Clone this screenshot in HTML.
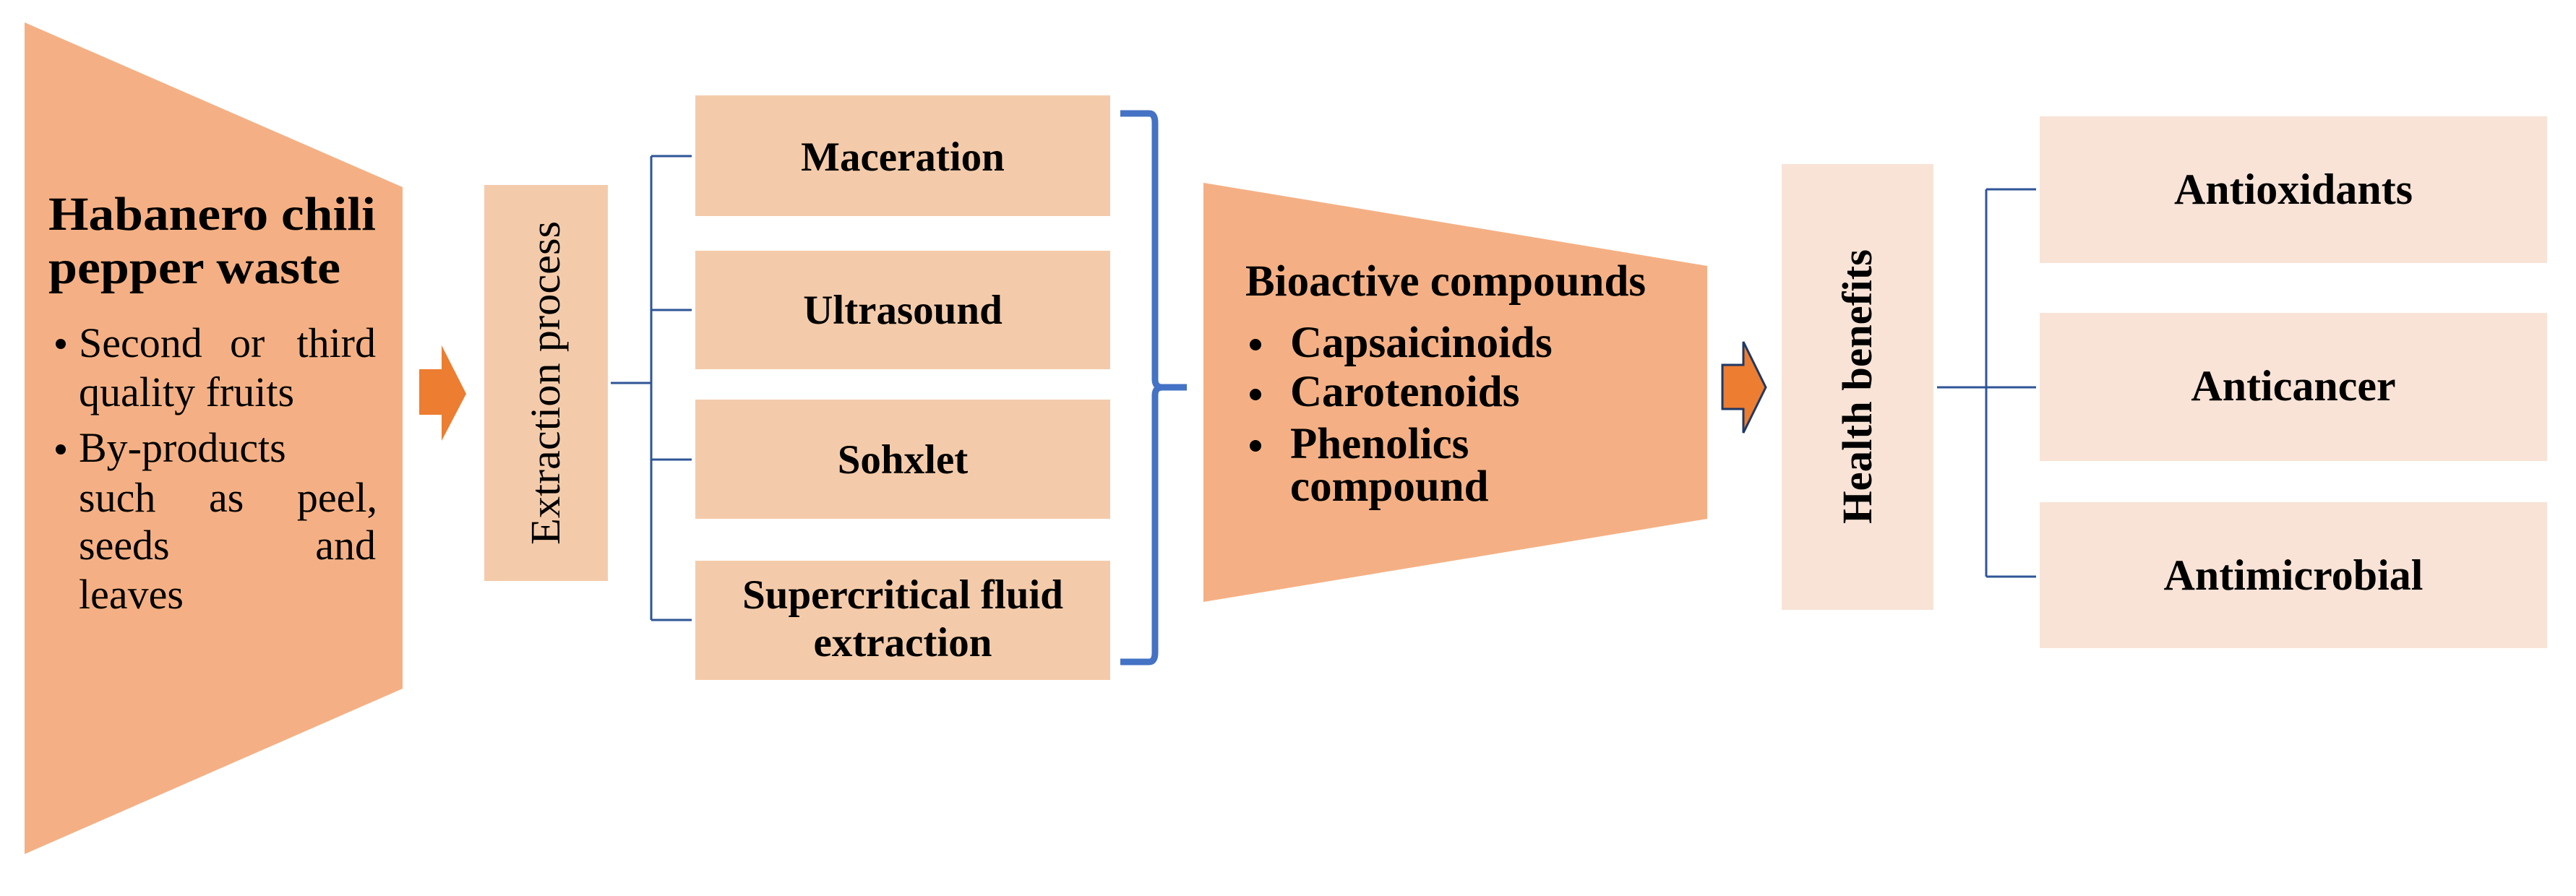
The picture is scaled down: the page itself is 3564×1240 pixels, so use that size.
<!DOCTYPE html>
<html><head><meta charset="utf-8"><style>
html,body{margin:0;padding:0;background:#fff;}
svg{display:block;}
text{font-family:"Liberation Serif",serif;fill:#000;}
.b{font-weight:bold;}
</style></head><body>
<svg width="3564" height="1240" viewBox="0 0 3564 1240" xmlns="http://www.w3.org/2000/svg">
<polygon points="34,31 557,259 557,953 34,1182" fill="#f4b084"/>
<text class="b" x="67" y="318" font-size="66" textLength="453" lengthAdjust="spacingAndGlyphs">Habanero chili</text>
<text class="b" x="67" y="392" font-size="66" textLength="404" lengthAdjust="spacingAndGlyphs">pepper waste</text>
<g font-size="58">
<circle cx="84" cy="476" r="7" fill="#000"/>
<text x="109" y="494">Second</text><text x="318" y="494">or</text><text x="520" y="494" text-anchor="end">third</text>
<text x="109" y="562">quality fruits</text>
<circle cx="84" cy="622" r="7" fill="#000"/>
<text x="109" y="639">By-products</text>
<text x="109" y="708">such</text><text x="289" y="708">as</text><text x="522" y="708" text-anchor="end">peel,</text>
<text x="109" y="774">seeds</text><text x="520" y="774" text-anchor="end">and</text>
<text x="109" y="842">leaves</text>
</g>
<polygon points="580,511 611,511 611,478 645,545 611,610 611,574 580,574" fill="#ed7d31"/>
<rect x="670" y="256" width="171" height="548" fill="#f4cbaa"/>
<text x="0" y="0" font-size="58" text-anchor="middle" transform="translate(774,530) rotate(-90)" textLength="448" lengthAdjust="spacingAndGlyphs">Extraction process</text>
<g stroke="#2f5597" stroke-width="3" fill="none">
<line x1="845" y1="530" x2="901" y2="530"/>
<line x1="901" y1="216" x2="901" y2="858"/>
<line x1="901" y1="216" x2="957" y2="216"/>
<line x1="901" y1="429" x2="957" y2="429"/>
<line x1="901" y1="636" x2="957" y2="636"/>
<line x1="901" y1="858" x2="957" y2="858"/>
</g>
<g fill="#f4cbaa">
<rect x="962" y="132" width="574" height="167"/>
<rect x="962" y="347" width="574" height="164"/>
<rect x="962" y="553" width="574" height="165"/>
<rect x="962" y="776" width="574" height="165"/>
</g>
<g font-size="57" text-anchor="middle">
<text class="b" x="1249" y="236">Maceration</text>
<text class="b" x="1249" y="448">Ultrasound</text>
<text class="b" x="1249" y="655">Sohxlet</text>
<text class="b" x="1249" y="842">Supercritical fluid</text>
<text class="b" x="1249" y="908">extraction</text>
</g>
<path d="M1550,157 L1590,157 Q1598,157 1598,170 L1598,525 Q1598,536 1608,536 L1642,536 M1608,536 Q1598,536 1598,547 L1598,903 Q1598,916 1590,916 L1550,916" stroke="#4472c4" stroke-width="9" fill="none"/>
<polygon points="1665,253 2362,368 2362,718 1665,833" fill="#f4b084"/>
<g font-size="61">
<text class="b" x="1723" y="409">Bioactive compounds</text>
<circle cx="1737" cy="477" r="8" fill="#000"/>
<text class="b" x="1785" y="494">Capsaicinoids</text>
<circle cx="1737" cy="546" r="8" fill="#000"/>
<text class="b" x="1785" y="562">Carotenoids</text>
<circle cx="1737" cy="617" r="8" fill="#000"/>
<text class="b" x="1785" y="634">Phenolics</text>
<text class="b" x="1785" y="693">compound</text>
</g>
<polygon points="2383,505 2412,505 2412,473 2443,536 2412,599 2412,566 2383,566" fill="#ed7d31" stroke="#1f3864" stroke-width="3"/>
<rect x="2465" y="227" width="210" height="617" fill="#f8e3d6"/>
<text class="b" x="0" y="0" font-size="58" text-anchor="middle" transform="translate(2589,535) rotate(-90)" textLength="380" lengthAdjust="spacingAndGlyphs">Health benefits</text>
<g stroke="#2f5597" stroke-width="3" fill="none">
<line x1="2680" y1="536" x2="2817" y2="536"/>
<line x1="2748" y1="262" x2="2748" y2="798"/>
<line x1="2748" y1="262" x2="2817" y2="262"/>
<line x1="2748" y1="798" x2="2817" y2="798"/>
</g>
<g fill="#f8e3d6">
<rect x="2822" y="161" width="702" height="203"/>
<rect x="2822" y="433" width="702" height="205"/>
<rect x="2822" y="695" width="702" height="202"/>
</g>
<g font-size="60" text-anchor="middle">
<text class="b" x="3173" y="282">Antioxidants</text>
<text class="b" x="3173" y="554">Anticancer</text>
<text class="b" x="3173" y="816">Antimicrobial</text>
</g>
</svg>
</body></html>
